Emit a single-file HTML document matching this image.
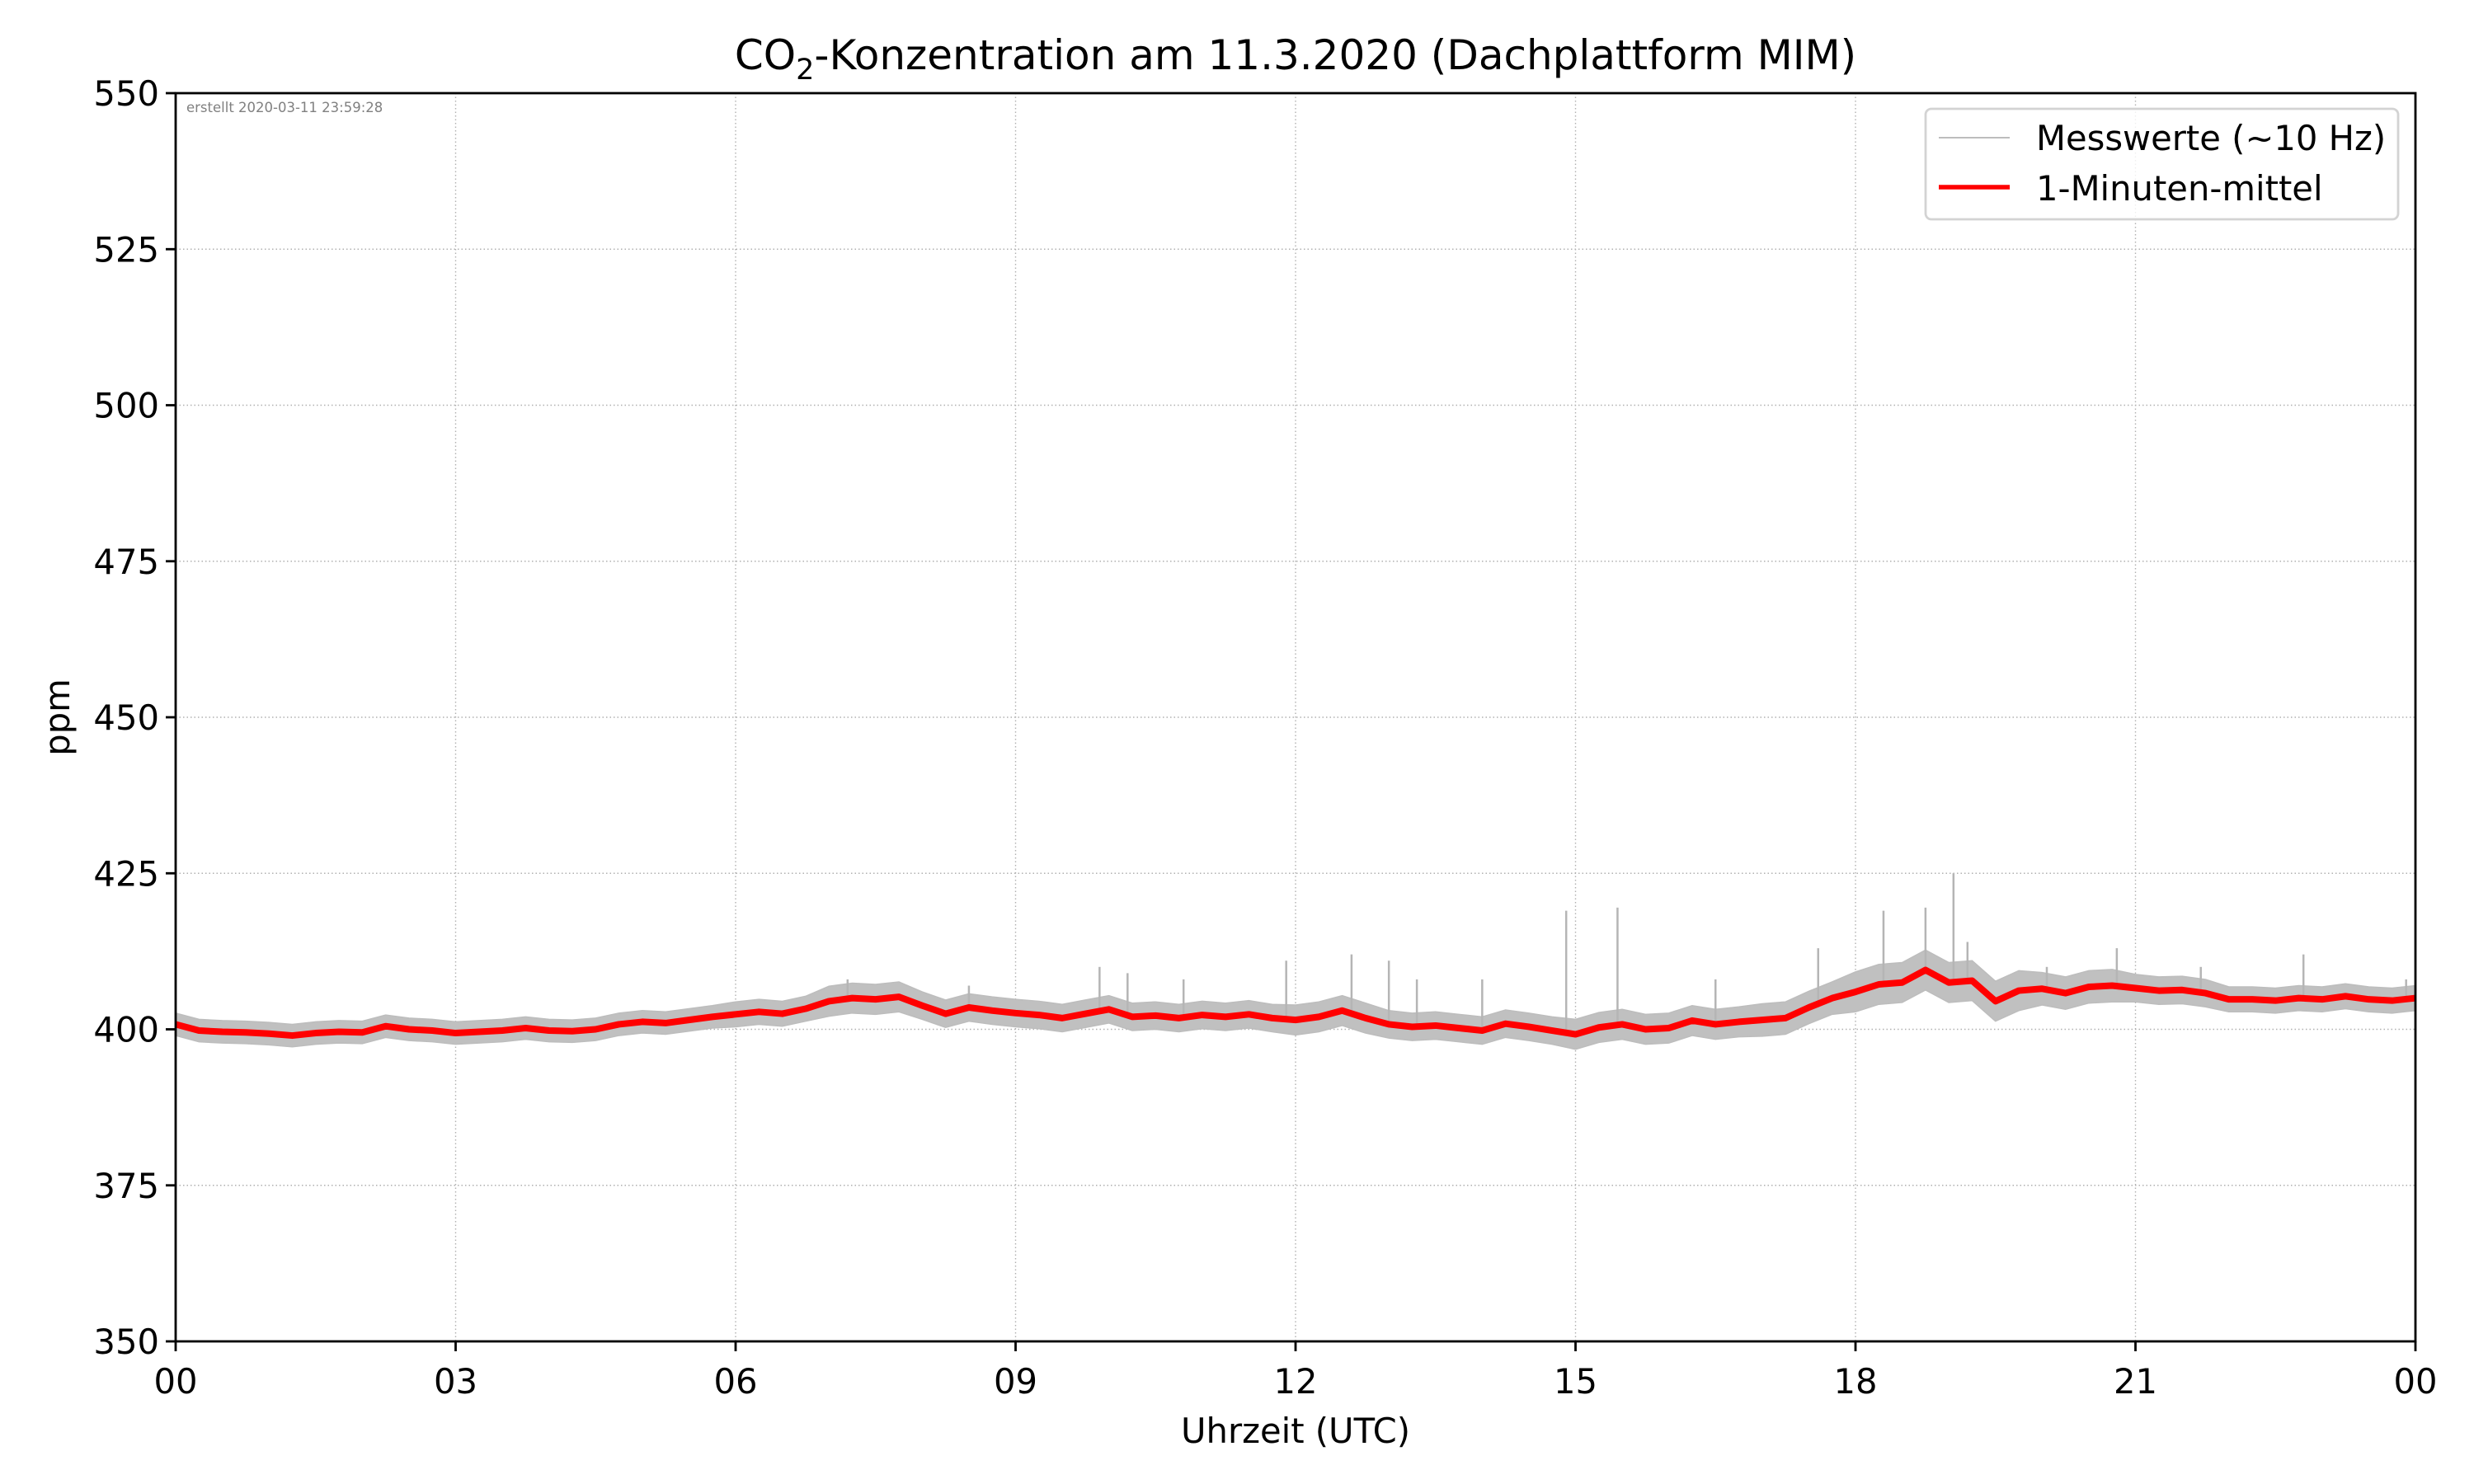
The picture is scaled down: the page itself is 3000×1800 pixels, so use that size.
<!DOCTYPE html>
<html><head><meta charset="utf-8"><style>
html,body{margin:0;padding:0;background:#fff;}
svg{display:block;font-family:"DejaVu Sans","Liberation Sans",sans-serif;}
</style></head><body>
<svg id="chart" width="3000" height="1800" viewBox="0 0 3000 1800" xmlns="http://www.w3.org/2000/svg">
<rect x="0" y="0" width="3000" height="1800" fill="#fff"/>
<g id="grid"></g>
<g id="series"></g>
<rect x="213" y="113" width="2716" height="1514" fill="none" stroke="#000" stroke-width="2.8"/>
<g id="ticks"></g>
<text x="1571" y="84" font-size="50" text-anchor="middle">CO<tspan font-size="35" dy="12">2</tspan><tspan dy="-12">-Konzentration am 11.3.2020 (Dachplattform MIM)</tspan></text>
<text x="1571" y="1750" font-size="41.7" text-anchor="middle">Uhrzeit (UTC)</text>
<text transform="translate(84,870) rotate(-90)" font-size="41.7" text-anchor="middle">ppm</text>
<text x="226" y="136" font-size="16.5" fill="#808080">erstellt 2020-03-11 23:59:28</text>
<g>
<rect x="2335" y="132" width="573" height="134" rx="7" fill="#fff" fill-opacity="0.8" stroke="#d3d3d3" stroke-width="2.8"/>
<line x1="2351" y1="167" x2="2437" y2="167" stroke="#bdbdbd" stroke-width="2"/>
<text x="2469" y="182" font-size="41.7">Messwerte (~10 Hz)</text>
<line x1="2351" y1="227" x2="2437" y2="227" stroke="#ff0000" stroke-width="5.5"/>
<text x="2469" y="243" font-size="41.7">1-Minuten-mittel</text>
</g>
</svg>
<script>
const meanValues = [
400.8,399.8,399.6,399.5, 399.3,399.0,399.4,399.6, 399.5,400.5,400.0,399.8,
399.4,399.6,399.8,400.2, 399.8,399.7,400.0,400.8, 401.2,401.0,401.5,402.0,
402.4,402.8,402.5,403.3, 404.5,405.0,404.8,405.2, 403.8,402.5,403.5,403.0,
402.6,402.3,401.8,402.5, 403.2,402.0,402.2,401.8, 402.3,402.0,402.4,401.8,
401.5,402.0,403.0,401.8, 400.8,400.4,400.6,400.2, 399.8,400.9,400.4,399.8,
399.2,400.3,400.8,400.0, 400.2,401.4,400.8,401.2, 401.5,401.8,403.5,405.0,
406.0,407.2,407.5,409.5, 407.5,407.8,404.5,406.2, 406.5,405.8,406.8,407.0,
406.6,406.2,406.3,405.8, 404.8,404.8,404.6,405.0, 404.8,405.3,404.8,404.6, 405.0];
const rawSpreadHourly = [1.8,1.8,1.8,1.8,1.8,1.8,2.0,2.4,2.2,2.2,2.2,2.2,2.4,2.2,2.2,2.4,2.4,2.6,3.2,3.2,2.6,2.2,2.0,2.0,2.0];
const spikeHours = [7.2,8.5,9.9,10.2,10.8,11.9,12.6,13.0,13.3,14.0,14.9,15.45,16.5,17.6,18.3,18.75,19.05,19.2,20.05,20.8,21.7,22.8,23.9];
const spikeValues = [408,407,410,409,408,411,412,411,408,408,419,419.5,408,413,419,419.5,425,414,410,413,410,412,408];
const xTicks = [0,3,6,9,12,15,18,21,24];
const xTickLabels = ["00","03","06","09","12","15","18","21","00"];
const yTicks = [350,375,400,425,450,475,500,525,550];

const L=213,R=2929,T=113,B=1627;
const xs = h => L + (h/24)*(R-L);
const ys = v => B - (v-350)/200*(B-T);
const stepH = 24/(meanValues.length-1);
const NS="http://www.w3.org/2000/svg";
function mk(tag,attrs,parent){const e=document.createElementNS(NS,tag);for(const k in attrs)e.setAttribute(k,attrs[k]);parent.appendChild(e);return e;}
const grid=document.getElementById('grid'),ticks=document.getElementById('ticks'),series=document.getElementById('series');
xTicks.forEach((h,i)=>{
  const x=xs(h);
  const g=mk('line',{x1:x,y1:T,x2:x,y2:B,stroke:'#b0b0b0','stroke-width':1.4,'stroke-dasharray':'1.5 3'},grid);
  
  
  const t=mk('line',{x1:x,y1:B,x2:x,y2:B+12,stroke:'#000','stroke-width':2.8},ticks);
  
  
  const l=mk('text',{x:x,y:1690,'font-size':41.7,'text-anchor':'middle'},ticks);
  l.textContent=xTickLabels[i];
  
  
});
yTicks.forEach(v=>{
  const y=ys(v);
  const g=mk('line',{x1:L,y1:y,x2:R,y2:y,stroke:'#b0b0b0','stroke-width':1.4,'stroke-dasharray':'1.5 3'},grid);
  
  
  const t=mk('line',{x1:L-12,y1:y,x2:L,y2:y,stroke:'#000','stroke-width':2.8},ticks);
  
  
  const l=mk('text',{x:L-20,y:y+15,'font-size':41.7,'text-anchor':'end'},ticks);
  l.textContent=String(v);
  
  
});
const spread = i => rawSpreadHourly[Math.min(rawSpreadHourly.length-1,Math.floor(i*stepH))];
let pts=meanValues.map((v,i)=>xs(i*stepH)+','+ys(v+spread(i)));
pts=pts.concat(meanValues.map((v,i)=>xs(i*stepH)+','+ys(v-spread(i))).reverse());
const band=mk('polygon',{points:pts.join(' '),fill:'#c0c0c0',stroke:'#bdbdbd','stroke-width':1.5},series);


spikeHours.forEach((h,i)=>{
  const k=Math.min(meanValues.length-1,Math.round(h/stepH));
  const s=mk('line',{x1:xs(h),y1:ys(meanValues[k]),x2:xs(h),y2:ys(spikeValues[i]),stroke:'#b5b5b5','stroke-width':2.5},series);
  
  
});
const mean=mk('polyline',{points:meanValues.map((v,i)=>xs(i*stepH)+','+ys(v)).join(' '),fill:'none',stroke:'#ff0000','stroke-width':8,'stroke-linejoin':'round'},series);


</script>
</body></html>
